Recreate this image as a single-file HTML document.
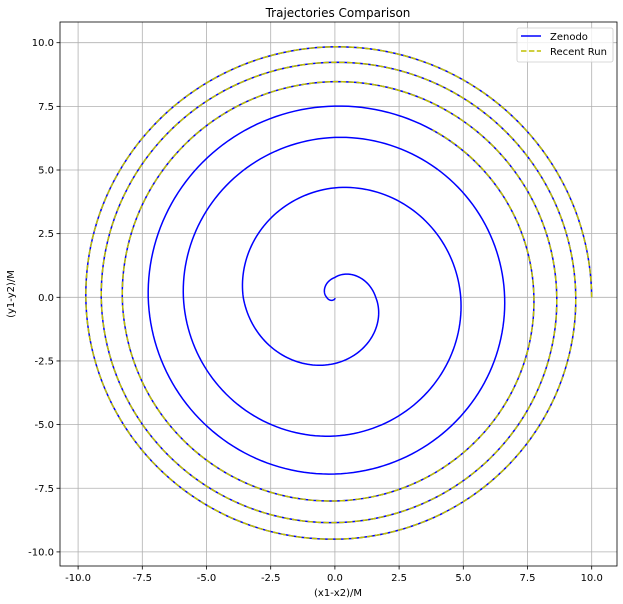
<!DOCTYPE html>
<html><head><meta charset="utf-8"><style>
body{margin:0;background:#fff;}
svg{display:block;font-family:"DejaVu Sans","Liberation Sans",sans-serif;}
</style></head><body>
<svg id="chart" width="623" height="604" viewBox="0 0 623 604">
<g id="grid"></g>
<g id="series"></g>
<rect x="60" y="22" width="557" height="544" fill="none" stroke="#000" stroke-width="0.8"/>
<g id="ticks"></g>
<text x="338" y="17" text-anchor="middle" font-size="12">Trajectories Comparison</text>
<text x="338" y="596" text-anchor="middle" font-size="10">(x1-x2)/M</text>
<text x="14" y="294" text-anchor="middle" font-size="10" transform="rotate(-90 14 294)">(y1-y2)/M</text>
<g>
<rect x="517" y="28" width="96" height="34" rx="2" fill="#fff" fill-opacity="0.8" stroke="#ccc" stroke-width="0.8"/>
<line x1="521" y1="36" x2="541" y2="36" stroke="#0000ff" stroke-width="1.5"/>
<text x="550" y="40" font-size="10">Zenodo</text>
<line x1="521" y1="51" x2="541" y2="51" stroke="#bfbf00" stroke-width="1.5" stroke-dasharray="5.5,2.4"/>
<text x="550" y="55" font-size="10">Recent Run</text>
</g>
</svg>
<script>
const zenodoAngles=[0,90,180,270,360,450,540,630,720,810,900,990,1080,1170,1260,1350,1440,1530,1620,1710,1800,1890,1980,2070,2160,2250,2340,2400,2440];
const zenodoRadii=[10.0,9.84,9.7,9.5,9.38,9.23,9.1,8.85,8.64,8.47,8.28,8.0,7.75,7.51,7.27,6.94,6.61,6.28,5.9,5.45,4.9,4.3,3.57,2.6,1.59,0.78,0.32,0.12,0.03];
const recentAngles=[0,90,180,270,360,450,540,630,720,810,900,990,1080,1140];
const recentRadii=[10.0,9.84,9.7,9.5,9.38,9.23,9.1,8.85,8.64,8.47,8.28,8.0,7.75,7.6];
const xTicks=[-10,-7.5,-5,-2.5,0,2.5,5,7.5,10];
const yTicks=[-10,-7.5,-5,-2.5,0,2.5,5,7.5,10];
const x0=334.9,xs=25.68,y0=297.3,ys=25.46;
const X=v=>x0+v*xs, Y=v=>y0-v*ys;
const NS="http://www.w3.org/2000/svg";
function mk(t,a,p){const e=document.createElementNS(NS,t);for(const k in a)e.setAttribute(k,a[k]);p.appendChild(e);return e;}
const grid=document.getElementById('grid'),ticks=document.getElementById('ticks'),ser=document.getElementById('series');
xTicks.forEach(v=>{
 const g=mk('line',{x1:X(v),x2:X(v),y1:22,y2:566,stroke:'#b0b0b0','stroke-width':0.8},grid);
 
 
 const t=mk('line',{x1:X(v),x2:X(v),y1:566,y2:569.5,stroke:'#000','stroke-width':0.8},ticks);
 
 
 const l=mk('text',{x:X(v),y:581,'text-anchor':'middle','font-size':10},ticks);
 l.textContent=v.toFixed(1);
 
 
});
yTicks.forEach(v=>{
 const g=mk('line',{x1:60,x2:617,y1:Y(v),y2:Y(v),stroke:'#b0b0b0','stroke-width':0.8},grid);
 
 
 const t=mk('line',{x1:56.5,x2:60,y1:Y(v),y2:Y(v),stroke:'#000','stroke-width':0.8},ticks);
 
 
 const l=mk('text',{x:54,y:Y(v)+3.5,'text-anchor':'end','font-size':10},ticks);
 l.textContent=v.toFixed(1);
 
 
});
function spiral(angles,radii){
 let d='';
 for(let i=0;i<angles.length-1;i++){
  const a0=angles[i],a1=angles[i+1],r0=radii[i],r1=radii[i+1];
  const n=Math.max(2,Math.round((a1-a0)/2));
  for(let k=(i===0?0:1);k<=n;k++){
   const f=k/n,a=(a0+(a1-a0)*f)*Math.PI/180,r=r0+(r1-r0)*f;
   d+=(d?'L':'M')+X(r*Math.cos(a)).toFixed(2)+','+Y(r*Math.sin(a)).toFixed(2);
  }
 }
 return d;
}
const z=mk('path',{d:spiral(zenodoAngles,zenodoRadii),fill:'none',stroke:'#0000ff','stroke-width':1.5},ser);


const r=mk('path',{d:spiral(recentAngles,recentRadii),fill:'none',stroke:'#bfbf00','stroke-width':1.5,'stroke-dasharray':'5.5,2.4'},ser);


</script>
</body></html>
